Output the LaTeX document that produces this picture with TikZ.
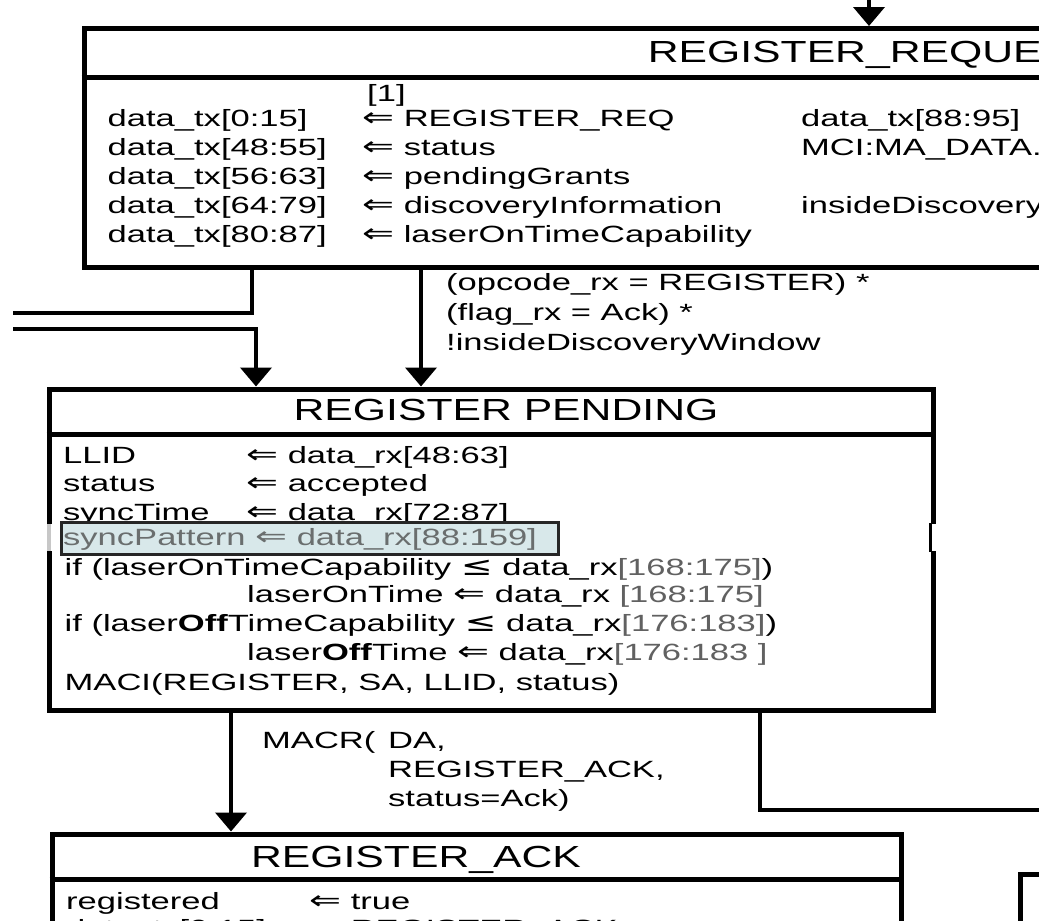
\documentclass[tikz,border=0pt]{standalone}
\usepackage{fontspec}
\setmainfont{Liberation Sans}[FakeStretch=1.47]
\newfontfamily\ttlfont{Liberation Sans}[FakeStretch=1.40]
\newfontfamily\glyphfont{DejaVu Sans}[FakeStretch=1.45,Scale=1.12]
\usetikzlibrary{arrows.meta}
\definecolor{hilite}{HTML}{D8E8EA}
\definecolor{dimtxt}{HTML}{6A6E6E}
\newcommand\bodyfont{\fontsize{23.5}{29}\selectfont}
\newcommand\assign{{\glyphfont ⇐}}
\newcommand\leqsym{{\glyphfont ≤}}
\newcommand\faded[1]{\textcolor{black!62}{#1}}
\tikzset{statebox/.style={draw,line width=5pt,inner sep=0pt},
         sepline/.style={line width=5pt},
         txt/.style={anchor=base west,inner sep=0pt,font=\bodyfont},
         ttl/.style={anchor=base,inner sep=0pt,font=\ttlfont\fontsize{30.5}{36}\selectfont},
         wire/.style={line width=4pt},
         arr/.style={wire,-{Triangle[width=31pt,length=19pt]}}}

\begin{document}
\begin{tikzpicture}[x=1pt,y=-1pt]
 \useasboundingbox (0,0) rectangle (1039,921);
 \fill[white] (0,0) rectangle (1039,921);
 \clip (0,0) rectangle (1039,921);
 % states
 \node[statebox,minimum width=1572pt,minimum height=238.5pt] (req) at (870,147.75) {};
 \node[statebox,minimum width=884pt,minimum height=321pt] (pend) at (491,549.5) {};
 \node[statebox,minimum width=849pt,minimum height=300pt] (ack) at (476.5,984) {};
 \node[statebox,minimum width=400pt,minimum height=300pt] (nxt) at (1220,1024) {};
 \coordinate (rqsep) at (0,77); \coordinate (pdsep) at (0,434); \coordinate (aksep) at (0,879);
 \draw[sepline] (req.west |- rqsep) -- (req.east |- rqsep);
 \draw[sepline] (pend.west |- pdsep) -- (pend.east |- pdsep);
 \draw[sepline] (ack.west |- aksep) -- (ack.east |- aksep);
 % REGISTER_REQUEST
 \node[ttl] (rqttl) at (872,62) {REGISTER\_REQUEST};
 \node[txt] (rqidx) at (367,101) {[1]};
 \foreach \lhs/\rhs [count=\i from 0] in {data\_tx[0:15]/REGISTER\_REQ,data\_tx[48:55]/status,
   data\_tx[56:63]/pendingGrants,data\_tx[64:79]/discoveryInformation,data\_tx[80:87]/laserOnTimeCapability}
  {\node[txt] (rql\i) at ({107.5},{126.5+29*\i}) {\lhs};
   \node[txt] (rqr\i) at ({362},{126.5+29*\i}) {\assign{} \rhs};}
 \node[txt] (rqx0) at (801,126.5) {data\_tx[88:95]};
 \node[txt] (rqx1) at (801,155.5) {MCI:MA\_DATA.};
 \node[txt] (rqx3) at (801,213.5) {insideDiscovery};
 % REGISTER PENDING
 \node[ttl] (pdttl) at (506,420) {REGISTER PENDING};
 \foreach \lhs/\rhs/\y [count=\i] in {LLID/data\_rx[48:63]/463,status/accepted/491.5,syncTime/data\_rx[72:87]/520}
  {\node[txt] (pdl\i) at (63,\y) {\lhs};
   \node[txt] (pdr\i) at (246,\y) {\assign{} \rhs};}
 \fill[white] (43,524) rectangle (55,551);
 \draw[black!22,line width=4pt] (49,524) -- (49,551);
 \fill[white] (929,524) rectangle (936,551);
 \draw[line width=2.5pt] (930.5,523) -- (930.5,552);
 \node[draw=black!85,line width=3pt,fill=hilite,inner sep=0pt,minimum width=497pt,minimum height=32pt] (hl) at (309.5,538.5) {};
 \node[txt,text=dimtxt] (pdsync) at (63,545.5) {syncPattern \assign{} data\_rx[88:159]};
 \node[txt] (pdif1) at (64.5,575) {if (laserOnTimeCapability \leqsym{} data\_rx\faded{[168:175]})};
 \node[txt] (pdon) at (247,602.5) {laserOnTime \assign{} data\_rx \faded{[168:175]}};
 \node[txt] (pdif2) at (64.5,631) {if (laser\textbf{Off}TimeCapability \leqsym{} data\_rx\faded{[176:183]})};
 \node[txt] (pdoff) at (247,660.5) {laser\textbf{Off}Time \assign{} data\_rx\faded{[176:183 ]}};
 \node[txt] (pdmaci) at (64.5,690) {MACI(REGISTER, SA, LLID, status)};
 % REGISTER_ACK
 \node[ttl] (akttl) at (416,867) {REGISTER\_ACK};
 \node[txt] (akl1) at (66,909) {registered};
 \node[txt] (akr1) at (309,909) {\assign{} true};
 \node[txt] (akl2) at (66,936) {data\_tx[0:15]};
 \node[txt] (akr2) at (309,936) {\assign{} REGISTER\_ACK};
 % transitions
 \coordinate (topin) at (869,-20);
 \draw[arr] (topin) -- (req.north -| topin);
 \coordinate (lft1) at (13,313); \coordinate (b1) at (252,313);
 \draw[wire] (req.south -| b1) |- (lft1);
 \coordinate (lft2) at (13,329); \coordinate (b2) at (256,329);
 \draw[arr] (lft2) -| (pend.north -| b2);
 \coordinate (b3) at (421,0);
 \draw[arr] (req.south -| b3) -- (pend.north -| b3);
 \node[txt] (cond1) at (446,290) {(opcode\_rx = REGISTER) *};
 \node[txt] (cond2) at (446,320) {(flag\_rx = Ack) *};
 \node[txt] (cond3) at (446,350) {!insideDiscoveryWindow};
 \coordinate (b4) at (231,0);
 \draw[arr] (pend.south -| b4) -- (ack.north -| b4);
 \node[txt] (macr) at (262,748) {MACR(};
 \node[txt] (macr1) at (388,748) {DA,};
 \node[txt] (macr2) at (388,777.5) {REGISTER\_ACK,};
 \node[txt] (macr3) at (388,806.5) {status=Ack)};
 \coordinate (b5) at (760,810); \coordinate (rgt) at (1050,810);
 \draw[wire] (pend.south -| b5) |- (rgt);
\end{tikzpicture}
\end{document}
